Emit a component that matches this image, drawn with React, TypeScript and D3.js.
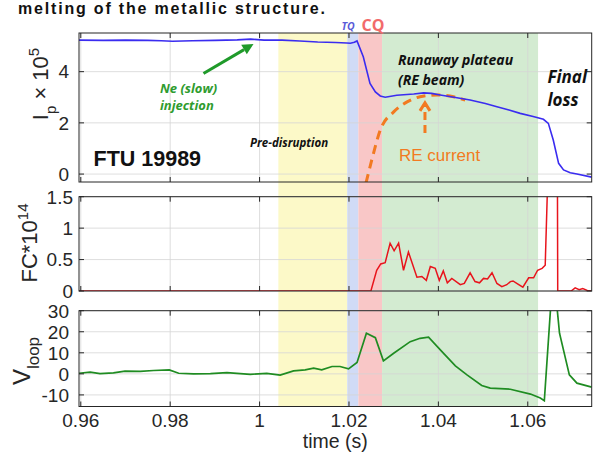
import React, { useEffect, useRef } from "react";
import * as d3 from "d3";

// time axis ticks and y ticks of the three panels
const timeTicks = [0.96, 0.98, 1, 1.02, 1.04, 1.06];
const ipTicks = [0, 2, 4];
const fcTicks = [0, 0.5, 1, 1.5];
const vloopTicks = [-10, 0, 10, 20, 30];

// disruption phases (s)
const phaseNames = ["pre", "tq", "cq", "plateau"];
const phaseStart = [1.0042, 1.0196, 1.0221, 1.0274];
const phaseEnd = [1.0196, 1.0221, 1.0274, 1.0623];

// plasma current Ip (x 1e5)
const ipSeries: [number, number][] = [
  [0.9596, 5.23], [0.965, 5.22], [0.97, 5.23], [0.975, 5.22], [0.978, 5.21], [0.9805, 5.19],
  [0.985, 5.21], [0.99, 5.22], [0.995, 5.24], [0.998, 5.27], [1.001, 5.23], [1.005, 5.23],
  [1.009, 5.2], [1.013, 5.16], [1.017, 5.14], [1.0195, 5.12], [1.0203, 5.11], [1.0212, 5.15],
  [1.0218, 5.2], [1.0232, 4.58], [1.0247, 3.54], [1.0259, 3.21], [1.027, 3.05], [1.0281, 3.0],
  [1.0307, 3.08], [1.0345, 3.13], [1.0367, 3.17], [1.0385, 3.15], [1.0404, 3.09], [1.0435, 3.0],
  [1.0471, 2.89], [1.0505, 2.76], [1.0531, 2.63], [1.0558, 2.5], [1.0583, 2.37], [1.0612, 2.25],
  [1.0635, 2.14], [1.0646, 1.98], [1.0657, 1.33], [1.0669, 0.42], [1.068, 0.16], [1.0695, 0.05],
  [1.071, 0.0], [1.0743, -0.12],
];

// sketched runaway electron current (same units as Ip)
const reCurrentSeries: [number, number][] = [
  [1.0238, -0.35], [1.0251, 0.55], [1.027, 1.72], [1.03, 2.43], [1.033, 2.82],
  [1.0359, 3.02], [1.0397, 3.09], [1.0434, 3.02], [1.046, 2.89],
];

// fission chamber FC (x 1e14)
const fcSeries: [number, number][] = [
  [0.9596, 0], [1.0249, 0], [1.0262, 0.33], [1.0271, 0.43], [1.0281, 0.45], [1.0292, 0.76],
  [1.0301, 0.64], [1.0311, 0.76], [1.0322, 0.33], [1.0333, 0.62], [1.0352, 0.22], [1.0363, 0.23],
  [1.0373, 0.17], [1.0382, 0.39], [1.0393, 0.36], [1.0402, 0.17], [1.0411, 0.32], [1.042, 0.13],
  [1.043, 0.2], [1.0449, 0.1], [1.0458, 0.12], [1.0471, 0.29], [1.0482, 0.15], [1.0492, 0.13],
  [1.0501, 0.2], [1.051, 0.19], [1.052, 0.29], [1.0531, 0.12], [1.0542, 0.07], [1.0553, 0.1],
  [1.0561, 0.15], [1.0567, 0.16], [1.0578, 0.11], [1.0589, 0.06], [1.0602, 0.21], [1.0613, 0.21],
  [1.0622, 0.33], [1.0632, 0.36], [1.0639, 0.41], [1.0648, 2.6], [1.0666, 2.6], [1.0667, 0],
  [1.0697, 0], [1.0706, 0.05], [1.0715, 0.02], [1.0723, 0.04], [1.0733, 0.01], [1.0743, 0],
];

// loop voltage
const vloopSeries: [number, number][] = [
  [0.9596, 0.3], [0.9621, 0.8], [0.9643, 0.15], [0.9673, 0.5], [0.9699, 1.3], [0.9733, 1.2],
  [0.9763, 1.6], [0.9798, 1.9], [0.9819, 0.3], [0.9852, 0], [0.989, 0.15], [0.9927, 0.6],
  [0.9979, -0.2], [1.0016, 0.2], [1.0046, -0.6], [1.0076, 1.4], [1.0102, 1.9], [1.0121, 2.7],
  [1.0139, 1.9], [1.0162, 3.5], [1.018, 3.5], [1.0199, 2.4], [1.0218, 5.4], [1.0239, 19.3],
  [1.0259, 17.2], [1.0277, 6.2], [1.03, 9.8], [1.0337, 15.3], [1.0359, 16.9], [1.0378, 17.4],
  [1.0408, 10.6], [1.0438, 3.8], [1.0464, -0.5], [1.0497, -5.5], [1.0516, -6.8], [1.0561, -7.3],
  [1.0606, -9.6], [1.0628, -11.5], [1.0637, -12.8], [1.0657, 50], [1.0671, 19.3], [1.0693, -0.5],
  [1.071, -4.4], [1.0743, -6.3],
];

const phaseColor: Record<string, string> = {
  pre: "#fcf9c8",
  tq: "#d0dbf6",
  cq: "#f9c7c7",
  plateau: "#d3ebd1",
};

const AXIS = "#262626";
const FONT = "'Liberation Sans', Arial, sans-serif";
const ANNOT = "'Open Sans', 'DejaVu Sans', sans-serif";

const App = () => {
  const ref = useRef<SVGSVGElement>(null);

  useEffect(() => {
    const svg = d3.select(ref.current);
    svg.selectAll("*").remove();

    const width = 608;
    const height = 452;
    const left = 79;
    const right = 591.7;

    svg.append("rect").attr("width", width).attr("height", height).attr("fill", "#fff");

    const x = d3.scaleLinear().domain([0.9596, 1.0743]).range([left, right]);

    const panels = [
      { key: "ip", top: 33, bottom: 182, domain: [-0.31, 5.51], ticks: ipTicks, labelGap: 10 },
      { key: "fc", top: 196.7, bottom: 291, domain: [0, 1.5], ticks: fcTicks, labelGap: 6 },
      { key: "vl", top: 310.7, bottom: 406.5, domain: [-15.5, 30], ticks: vloopTicks, labelGap: 10 },
    ].map((p) => ({
      ...p,
      y: d3.scaleLinear().domain(p.domain).range([p.bottom, p.top]),
    }));

    // phase shading runs through all three panels
    svg
      .append("g")
      .selectAll("rect")
      .data(phaseNames)
      .join("rect")
      .attr("x", (_, i) => x(phaseStart[i]))
      .attr("width", (_, i) => x(phaseEnd[i]) - x(phaseStart[i]))
      .attr("y", panels[0].top)
      .attr("height", panels[2].bottom - panels[0].top)
      .attr("fill", (d) => phaseColor[d]);

    const defs = svg.append("defs");
    panels.forEach((p) => {
      defs
        .append("clipPath")
        .attr("id", `clip-${p.key}`)
        .append("rect")
        .attr("x", left)
        .attr("y", p.top)
        .attr("width", right - left)
        .attr("height", p.bottom - p.top);
    });

    // grid
    panels.forEach((p) => {
      const g = svg.append("g").attr("stroke", "#d6d6d6").attr("stroke-width", 0.8);
      timeTicks.forEach((t) => {
        g.append("line").attr("x1", x(t)).attr("x2", x(t)).attr("y1", p.top).attr("y2", p.bottom);
      });
      p.ticks.forEach((v) => {
        g.append("line").attr("x1", left).attr("x2", right).attr("y1", p.y(v)).attr("y2", p.y(v));
      });
    });

    const lineFor = (y: d3.ScaleLinear<number, number>) =>
      d3
        .line<[number, number]>()
        .x((d) => x(d[0]))
        .y((d) => y(d[1]));

    const [pIp, pFc, pVl] = panels;

    // RE current sketch (dashed orange)
    svg
      .append("path")
      .datum(reCurrentSeries)
      .attr("clip-path", "url(#clip-ip)")
      .attr(
        "d",
        d3
          .line<[number, number]>()
          .x((d) => x(d[0]))
          .y((d) => pIp.y(d[1]))
          .curve(d3.curveMonotoneX),
      )
      .attr("fill", "none")
      .attr("stroke", "#f27a21")
      .attr("stroke-width", 3)
      .attr("stroke-dasharray", "9,6");

    svg
      .append("path")
      .datum(ipSeries)
      .attr("clip-path", "url(#clip-ip)")
      .attr("d", lineFor(pIp.y))
      .attr("fill", "none")
      .attr("stroke", "#3a2cf0")
      .attr("stroke-width", 1.6);

    svg
      .append("path")
      .datum(fcSeries)
      .attr("clip-path", "url(#clip-fc)")
      .attr("d", lineFor(pFc.y))
      .attr("fill", "none")
      .attr("stroke", "#e8141c")
      .attr("stroke-width", 1.5);

    svg
      .append("path")
      .datum(vloopSeries)
      .attr("clip-path", "url(#clip-vl)")
      .attr("d", lineFor(pVl.y))
      .attr("fill", "none")
      .attr("stroke", "#1f8c22")
      .attr("stroke-width", 1.7);

    // frames, ticks and tick labels
    panels.forEach((p) => {
      const g = svg.append("g").attr("stroke", AXIS).attr("stroke-width", 1);
      g.append("rect")
        .attr("x", left)
        .attr("y", p.top)
        .attr("width", right - left)
        .attr("height", p.bottom - p.top)
        .attr("fill", "none");
      timeTicks.forEach((t) => {
        g.append("line").attr("x1", x(t)).attr("x2", x(t)).attr("y1", p.bottom).attr("y2", p.bottom - 5);
        g.append("line").attr("x1", x(t)).attr("x2", x(t)).attr("y1", p.top).attr("y2", p.top + 5);
      });
      p.ticks.forEach((v) => {
        g.append("line").attr("x1", left).attr("x2", left + 5).attr("y1", p.y(v)).attr("y2", p.y(v));
        g.append("line").attr("x1", right).attr("x2", right - 5).attr("y1", p.y(v)).attr("y2", p.y(v));
      });
      svg
        .append("g")
        .selectAll("text")
        .data(p.ticks)
        .join("text")
        .attr("x", left - p.labelGap)
        .attr("y", (d) => p.y(d))
        .attr("dy", "0.36em")
        .attr("text-anchor", "end")
        .style("font-family", FONT)
        .style("font-size", "19px")
        .style("fill", AXIS)
        .text((d) => `${d}`);
    });

    svg
      .append("g")
      .selectAll("text")
      .data(timeTicks)
      .join("text")
      .attr("x", (d) => x(d))
      .attr("y", 426.5)
      .attr("text-anchor", "middle")
      .style("font-family", FONT)
      .style("font-size", "19px")
      .style("fill", AXIS)
      .text((d) => `${d}`);

    svg
      .append("text")
      .attr("x", (left + right) / 2)
      .attr("y", 448)
      .attr("text-anchor", "middle")
      .style("font-family", FONT)
      .style("font-size", "19.5px")
      .style("fill", AXIS)
      .text("time (s)");

    // y labels
    const ipLabel = svg
      .append("text")
      .attr("transform", "translate(48,84) rotate(-90)")
      .attr("text-anchor", "middle")
      .style("font-family", FONT)
      .style("font-size", "22px")
      .style("fill", AXIS);
    ipLabel.append("tspan").text("I");
    ipLabel.append("tspan").attr("dy", 8).style("font-size", "15px").text("p");
    ipLabel.append("tspan").attr("dy", -8).text(" × 10");
    ipLabel.append("tspan").attr("dy", -9).style("font-size", "15px").text("5");

    const fcLabel = svg
      .append("text")
      .attr("transform", "translate(37,243) rotate(-90)")
      .attr("text-anchor", "middle")
      .style("font-family", FONT)
      .style("font-size", "22px")
      .style("fill", AXIS);
    fcLabel.append("tspan").text("FC*10");
    fcLabel.append("tspan").attr("dy", -9).style("font-size", "15px").text("14");

    const vLabel = svg
      .append("text")
      .attr("transform", "translate(30,361) rotate(-90)")
      .attr("text-anchor", "middle")
      .style("font-family", FONT)
      .style("font-size", "24px")
      .style("fill", AXIS);
    vLabel.append("tspan").text("V");
    vLabel.append("tspan").attr("dy", 9).style("font-size", "17px").text("loop");

    // slide title peeking in at the top
    svg
      .append("text")
      .attr("x", 18)
      .attr("y", 14)
      .attr("textLength", 307)
      .style("font-family", FONT)
      .style("font-weight", "bold")
      .style("font-size", "16px")
      .style("fill", "#111")
      .text("melting of the metallic structure.");

    // annotations
    const note = (
      txt: string,
      px: number,
      py: number,
      size: number,
      color: string,
      italic = true,
      bold = true,
      family = ANNOT,
    ) =>
      svg
        .append("text")
        .attr("x", px)
        .attr("y", py)
        .style("font-family", family)
        .style("font-size", `${size}px`)
        .style("font-style", italic ? "italic" : "normal")
        .style("font-weight", bold ? "bold" : "normal")
        .style("fill", color)
        .text(txt);

    note("TQ", 341.5, 29.5, 10.5, "#5a5ad8");
    note("CQ", 361.5, 30.5, 16, "#f26b6b", false, true);
    note("Ne (slow)", 160, 93, 13, "#2f9c2f");
    note("injection", 160, 110, 13, "#2f9c2f");
    note("Pre-disruption", 250, 147, 11.5, "#111");
    note("Runaway plateau", 398, 65, 14, "#111");
    note("(RE beam)", 398, 85, 14, "#111");
    note("Final", 547.5, 82.5, 17, "#111");
    note("loss", 547.5, 105.5, 17, "#111");
    note("FTU 19989", 93.5, 166, 21.5, "#111", false, true, FONT);
    note("RE current", 399, 161, 17, "#f27a21", false, false, FONT);

    // green arrow towards the Ne injection time
    const gx1 = x(0.98745);
    const gy1 = pIp.y(3.93);
    const gx2 = x(0.99864);
    const gy2 = pIp.y(5.08);
    const ang = Math.atan2(gy2 - gy1, gx2 - gx1);
    const headLen = 11;
    const headW = 5.5;
    const bx = gx2 - headLen * Math.cos(ang);
    const by = gy2 - headLen * Math.sin(ang);
    svg
      .append("line")
      .attr("x1", gx1)
      .attr("y1", gy1)
      .attr("x2", bx)
      .attr("y2", by)
      .attr("stroke", "#1f9a2a")
      .attr("stroke-width", 3);
    svg
      .append("polygon")
      .attr(
        "points",
        [
          [gx2, gy2],
          [bx + headW * Math.sin(ang), by - headW * Math.cos(ang)],
          [bx - headW * Math.sin(ang), by + headW * Math.cos(ang)],
        ]
          .map((p) => p.join(","))
          .join(" "),
      )
      .attr("fill", "#1f9a2a");

    // dashed orange arrow pointing at the RE current peak
    const ax = x(1.037);
    const aTop = pIp.y(2.78);
    const aBot = pIp.y(1.6);
    svg
      .append("line")
      .attr("x1", ax)
      .attr("x2", ax)
      .attr("y1", aBot)
      .attr("y2", aTop + 2)
      .attr("stroke", "#f27a21")
      .attr("stroke-width", 3)
      .attr("stroke-dasharray", "8,5");
    svg
      .append("polyline")
      .attr("points", `${ax - 5},${aTop + 8} ${ax},${aTop} ${ax + 5},${aTop + 8}`)
      .attr("fill", "none")
      .attr("stroke", "#f27a21")
      .attr("stroke-width", 3);
  }, []);

  return (
    <svg
      ref={ref}
      width={608}
      height={452}
      style={{ position: "absolute", left: 0, top: 0, display: "block" }}
    />
  );
};

export default App;
